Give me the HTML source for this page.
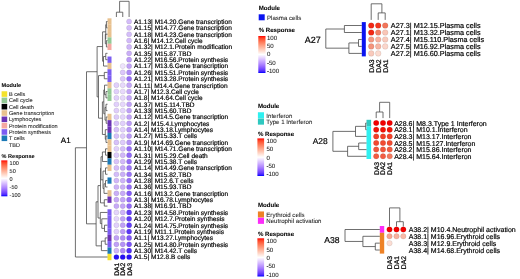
<!DOCTYPE html>
<html><head><meta charset="utf-8"><title>Module response heatmaps</title>
<style>html,body{margin:0;padding:0;background:#fff;}svg{display:block;}text{font-family:"Liberation Sans", Arial, Helvetica, sans-serif;text-rendering:geometricPrecision;}</style></head>
<body><svg width="520" height="279" viewBox="0 0 520 279">
<rect width="520" height="279" fill="#fff"/>
<rect x="107.50" y="18.32" width="4.00" height="6.42" fill="#e8c18f"/>
<rect x="107.50" y="24.68" width="4.00" height="6.42" fill="#e8c18f"/>
<rect x="107.50" y="31.05" width="4.00" height="6.42" fill="#e8c18f"/>
<rect x="107.50" y="37.41" width="4.00" height="6.42" fill="#93c995"/>
<rect x="107.50" y="43.78" width="4.00" height="6.42" fill="#f5a8a0"/>
<rect x="107.50" y="50.14" width="4.00" height="6.42" fill="#ffffff"/>
<rect x="107.50" y="56.51" width="4.00" height="6.42" fill="#7b5cf2"/>
<rect x="107.50" y="62.87" width="4.00" height="6.42" fill="#e8c18f"/>
<rect x="107.50" y="69.24" width="4.00" height="6.42" fill="#7b5cf2"/>
<rect x="107.50" y="75.60" width="4.00" height="6.42" fill="#7b5cf2"/>
<rect x="107.50" y="81.97" width="4.00" height="6.42" fill="#e8c18f"/>
<rect x="107.50" y="88.33" width="4.00" height="6.42" fill="#93c995"/>
<rect x="107.50" y="94.70" width="4.00" height="6.42" fill="#93c995"/>
<rect x="107.50" y="101.06" width="4.00" height="6.42" fill="#ffffff"/>
<rect x="107.50" y="107.43" width="4.00" height="6.42" fill="#ffffff"/>
<rect x="107.50" y="113.79" width="4.00" height="6.42" fill="#e8c18f"/>
<rect x="107.50" y="120.16" width="4.00" height="6.42" fill="#6a32b4"/>
<rect x="107.50" y="126.52" width="4.00" height="6.42" fill="#6a32b4"/>
<rect x="107.50" y="132.89" width="4.00" height="6.42" fill="#1b79b6"/>
<rect x="107.50" y="139.25" width="4.00" height="6.42" fill="#e8c18f"/>
<rect x="107.50" y="145.62" width="4.00" height="6.42" fill="#e8c18f"/>
<rect x="107.50" y="151.98" width="4.00" height="6.42" fill="#000000"/>
<rect x="107.50" y="158.35" width="4.00" height="6.42" fill="#1b79b6"/>
<rect x="107.50" y="164.71" width="4.00" height="6.42" fill="#e8c18f"/>
<rect x="107.50" y="171.08" width="4.00" height="6.42" fill="#ffffff"/>
<rect x="107.50" y="177.44" width="4.00" height="6.42" fill="#1b79b6"/>
<rect x="107.50" y="183.81" width="4.00" height="6.42" fill="#ffffff"/>
<rect x="107.50" y="190.17" width="4.00" height="6.42" fill="#e8c18f"/>
<rect x="107.50" y="196.54" width="4.00" height="6.42" fill="#6a32b4"/>
<rect x="107.50" y="202.90" width="4.00" height="6.42" fill="#ffffff"/>
<rect x="107.50" y="209.27" width="4.00" height="6.42" fill="#7b5cf2"/>
<rect x="107.50" y="215.63" width="4.00" height="6.42" fill="#7b5cf2"/>
<rect x="107.50" y="222.00" width="4.00" height="6.42" fill="#7b5cf2"/>
<rect x="107.50" y="228.36" width="4.00" height="6.42" fill="#7b5cf2"/>
<rect x="107.50" y="234.73" width="4.00" height="6.42" fill="#6a32b4"/>
<rect x="107.50" y="241.09" width="4.00" height="6.42" fill="#7b5cf2"/>
<rect x="107.50" y="247.46" width="4.00" height="6.42" fill="#1b79b6"/>
<rect x="107.50" y="253.82" width="4.00" height="6.42" fill="#f4e22c"/>
<circle cx="129.10" cy="21.50" r="2.60" fill="#d4bdf9" stroke="#000" stroke-opacity="0.15" stroke-width="0.5"/>
<circle cx="129.10" cy="27.87" r="2.60" fill="#d4bdf9" stroke="#000" stroke-opacity="0.15" stroke-width="0.5"/>
<circle cx="129.10" cy="34.23" r="2.60" fill="#d4bdf9" stroke="#000" stroke-opacity="0.15" stroke-width="0.5"/>
<circle cx="129.10" cy="40.59" r="2.60" fill="#d3baf9" stroke="#000" stroke-opacity="0.15" stroke-width="0.5"/>
<circle cx="129.10" cy="46.96" r="2.60" fill="#cfb6f8" stroke="#000" stroke-opacity="0.15" stroke-width="0.5"/>
<circle cx="129.10" cy="53.33" r="2.60" fill="#caaff7" stroke="#000" stroke-opacity="0.15" stroke-width="0.5"/>
<circle cx="129.10" cy="59.69" r="2.60" fill="#bc9cf6" stroke="#000" stroke-opacity="0.15" stroke-width="0.5"/>
<circle cx="122.75" cy="66.06" r="2.60" fill="#eee3fc" stroke="#000" stroke-opacity="0.15" stroke-width="0.5"/>
<circle cx="129.10" cy="66.06" r="2.60" fill="#c0a1f6" stroke="#000" stroke-opacity="0.15" stroke-width="0.5"/>
<circle cx="122.75" cy="72.42" r="2.60" fill="#dbc6fa" stroke="#000" stroke-opacity="0.15" stroke-width="0.5"/>
<circle cx="129.10" cy="72.42" r="2.60" fill="#ae8af6" stroke="#000" stroke-opacity="0.15" stroke-width="0.5"/>
<circle cx="122.75" cy="78.78" r="2.60" fill="#dbc6fa" stroke="#000" stroke-opacity="0.15" stroke-width="0.5"/>
<circle cx="129.10" cy="78.78" r="2.60" fill="#966ef6" stroke="#000" stroke-opacity="0.15" stroke-width="0.5"/>
<circle cx="116.40" cy="85.15" r="2.60" fill="#e1d0fb" stroke="#000" stroke-opacity="0.15" stroke-width="0.5"/>
<circle cx="122.75" cy="85.15" r="2.60" fill="#e7d9fb" stroke="#000" stroke-opacity="0.15" stroke-width="0.5"/>
<circle cx="129.10" cy="85.15" r="2.60" fill="#c4a6f7" stroke="#000" stroke-opacity="0.15" stroke-width="0.5"/>
<circle cx="116.40" cy="91.52" r="2.60" fill="#e1d0fb" stroke="#000" stroke-opacity="0.15" stroke-width="0.5"/>
<circle cx="122.75" cy="91.52" r="2.60" fill="#e7d9fb" stroke="#000" stroke-opacity="0.15" stroke-width="0.5"/>
<circle cx="129.10" cy="91.52" r="2.60" fill="#c4a6f7" stroke="#000" stroke-opacity="0.15" stroke-width="0.5"/>
<circle cx="116.40" cy="97.88" r="2.60" fill="#e1d0fb" stroke="#000" stroke-opacity="0.15" stroke-width="0.5"/>
<circle cx="122.75" cy="97.88" r="2.60" fill="#e6d7fb" stroke="#000" stroke-opacity="0.15" stroke-width="0.5"/>
<circle cx="129.10" cy="97.88" r="2.60" fill="#c4a6f7" stroke="#000" stroke-opacity="0.15" stroke-width="0.5"/>
<circle cx="116.40" cy="104.25" r="2.60" fill="#e1d0fb" stroke="#000" stroke-opacity="0.15" stroke-width="0.5"/>
<circle cx="122.75" cy="104.25" r="2.60" fill="#e6d7fb" stroke="#000" stroke-opacity="0.15" stroke-width="0.5"/>
<circle cx="129.10" cy="104.25" r="2.60" fill="#c0a1f6" stroke="#000" stroke-opacity="0.15" stroke-width="0.5"/>
<circle cx="116.40" cy="110.61" r="2.60" fill="#e0cefa" stroke="#000" stroke-opacity="0.15" stroke-width="0.5"/>
<circle cx="122.75" cy="110.61" r="2.60" fill="#e4d5fb" stroke="#000" stroke-opacity="0.15" stroke-width="0.5"/>
<circle cx="129.10" cy="110.61" r="2.60" fill="#c0a1f6" stroke="#000" stroke-opacity="0.15" stroke-width="0.5"/>
<circle cx="116.40" cy="116.98" r="2.60" fill="#ddcbfa" stroke="#000" stroke-opacity="0.15" stroke-width="0.5"/>
<circle cx="122.75" cy="116.98" r="2.60" fill="#e4d5fb" stroke="#000" stroke-opacity="0.15" stroke-width="0.5"/>
<circle cx="129.10" cy="116.98" r="2.60" fill="#c0a1f6" stroke="#000" stroke-opacity="0.15" stroke-width="0.5"/>
<circle cx="116.40" cy="123.34" r="2.60" fill="#d7c1f9" stroke="#000" stroke-opacity="0.15" stroke-width="0.5"/>
<circle cx="122.75" cy="123.34" r="2.60" fill="#e1d0fb" stroke="#000" stroke-opacity="0.15" stroke-width="0.5"/>
<circle cx="129.10" cy="123.34" r="2.60" fill="#bc9cf6" stroke="#000" stroke-opacity="0.15" stroke-width="0.5"/>
<circle cx="116.40" cy="129.70" r="2.60" fill="#d7c1f9" stroke="#000" stroke-opacity="0.15" stroke-width="0.5"/>
<circle cx="122.75" cy="129.70" r="2.60" fill="#e1d0fb" stroke="#000" stroke-opacity="0.15" stroke-width="0.5"/>
<circle cx="129.10" cy="129.70" r="2.60" fill="#b898f6" stroke="#000" stroke-opacity="0.15" stroke-width="0.5"/>
<circle cx="116.40" cy="136.07" r="2.60" fill="#d7c1f9" stroke="#000" stroke-opacity="0.15" stroke-width="0.5"/>
<circle cx="122.75" cy="136.07" r="2.60" fill="#ddcbfa" stroke="#000" stroke-opacity="0.15" stroke-width="0.5"/>
<circle cx="129.10" cy="136.07" r="2.60" fill="#b898f6" stroke="#000" stroke-opacity="0.15" stroke-width="0.5"/>
<circle cx="116.40" cy="142.44" r="2.60" fill="#d7c1f9" stroke="#000" stroke-opacity="0.15" stroke-width="0.5"/>
<circle cx="122.75" cy="142.44" r="2.60" fill="#ddcbfa" stroke="#000" stroke-opacity="0.15" stroke-width="0.5"/>
<circle cx="129.10" cy="142.44" r="2.60" fill="#b593f6" stroke="#000" stroke-opacity="0.15" stroke-width="0.5"/>
<circle cx="116.40" cy="148.80" r="2.60" fill="#e1d0fb" stroke="#000" stroke-opacity="0.15" stroke-width="0.5"/>
<circle cx="122.75" cy="148.80" r="2.60" fill="#d4bdf9" stroke="#000" stroke-opacity="0.15" stroke-width="0.5"/>
<circle cx="129.10" cy="148.80" r="2.60" fill="#966ef6" stroke="#000" stroke-opacity="0.15" stroke-width="0.5"/>
<circle cx="116.40" cy="155.16" r="2.60" fill="#ddcbfa" stroke="#000" stroke-opacity="0.15" stroke-width="0.5"/>
<circle cx="122.75" cy="155.16" r="2.60" fill="#d1b8f8" stroke="#000" stroke-opacity="0.15" stroke-width="0.5"/>
<circle cx="129.10" cy="155.16" r="2.60" fill="#9169f6" stroke="#000" stroke-opacity="0.15" stroke-width="0.5"/>
<circle cx="116.40" cy="161.53" r="2.60" fill="#d9c4f9" stroke="#000" stroke-opacity="0.15" stroke-width="0.5"/>
<circle cx="122.75" cy="161.53" r="2.60" fill="#d1b8f8" stroke="#000" stroke-opacity="0.15" stroke-width="0.5"/>
<circle cx="129.10" cy="161.53" r="2.60" fill="#946cf6" stroke="#000" stroke-opacity="0.15" stroke-width="0.5"/>
<circle cx="116.40" cy="167.90" r="2.60" fill="#d4bdf9" stroke="#000" stroke-opacity="0.15" stroke-width="0.5"/>
<circle cx="122.75" cy="167.90" r="2.60" fill="#c7aaf7" stroke="#000" stroke-opacity="0.15" stroke-width="0.5"/>
<circle cx="129.10" cy="167.90" r="2.60" fill="#9a73f6" stroke="#000" stroke-opacity="0.15" stroke-width="0.5"/>
<circle cx="116.40" cy="174.26" r="2.60" fill="#d4bdf9" stroke="#000" stroke-opacity="0.15" stroke-width="0.5"/>
<circle cx="122.75" cy="174.26" r="2.60" fill="#caaff7" stroke="#000" stroke-opacity="0.15" stroke-width="0.5"/>
<circle cx="129.10" cy="174.26" r="2.60" fill="#9a73f6" stroke="#000" stroke-opacity="0.15" stroke-width="0.5"/>
<circle cx="116.40" cy="180.62" r="2.60" fill="#d1b8f8" stroke="#000" stroke-opacity="0.15" stroke-width="0.5"/>
<circle cx="122.75" cy="180.62" r="2.60" fill="#cdb3f8" stroke="#000" stroke-opacity="0.15" stroke-width="0.5"/>
<circle cx="129.10" cy="180.62" r="2.60" fill="#966ef6" stroke="#000" stroke-opacity="0.15" stroke-width="0.5"/>
<circle cx="116.40" cy="186.99" r="2.60" fill="#cdb3f8" stroke="#000" stroke-opacity="0.15" stroke-width="0.5"/>
<circle cx="122.75" cy="186.99" r="2.60" fill="#caaff7" stroke="#000" stroke-opacity="0.15" stroke-width="0.5"/>
<circle cx="129.10" cy="186.99" r="2.60" fill="#9169f6" stroke="#000" stroke-opacity="0.15" stroke-width="0.5"/>
<circle cx="116.40" cy="193.36" r="2.60" fill="#caaff7" stroke="#000" stroke-opacity="0.15" stroke-width="0.5"/>
<circle cx="122.75" cy="193.36" r="2.60" fill="#c7aaf7" stroke="#000" stroke-opacity="0.15" stroke-width="0.5"/>
<circle cx="129.10" cy="193.36" r="2.60" fill="#845bf6" stroke="#000" stroke-opacity="0.15" stroke-width="0.5"/>
<circle cx="116.40" cy="199.72" r="2.60" fill="#c7aaf7" stroke="#000" stroke-opacity="0.15" stroke-width="0.5"/>
<circle cx="122.75" cy="199.72" r="2.60" fill="#c4a6f7" stroke="#000" stroke-opacity="0.15" stroke-width="0.5"/>
<circle cx="129.10" cy="199.72" r="2.60" fill="#966ef6" stroke="#000" stroke-opacity="0.15" stroke-width="0.5"/>
<circle cx="116.40" cy="206.09" r="2.60" fill="#c7aaf7" stroke="#000" stroke-opacity="0.15" stroke-width="0.5"/>
<circle cx="122.75" cy="206.09" r="2.60" fill="#c4a6f7" stroke="#000" stroke-opacity="0.15" stroke-width="0.5"/>
<circle cx="129.10" cy="206.09" r="2.60" fill="#9169f6" stroke="#000" stroke-opacity="0.15" stroke-width="0.5"/>
<circle cx="116.40" cy="212.45" r="2.60" fill="#e4d5fb" stroke="#000" stroke-opacity="0.15" stroke-width="0.5"/>
<circle cx="122.75" cy="212.45" r="2.60" fill="#cdb3f8" stroke="#000" stroke-opacity="0.15" stroke-width="0.5"/>
<circle cx="129.10" cy="212.45" r="2.60" fill="#653ef6" stroke="#000" stroke-opacity="0.15" stroke-width="0.5"/>
<circle cx="116.40" cy="218.81" r="2.60" fill="#e4d5fb" stroke="#000" stroke-opacity="0.15" stroke-width="0.5"/>
<circle cx="122.75" cy="218.81" r="2.60" fill="#c0a1f6" stroke="#000" stroke-opacity="0.15" stroke-width="0.5"/>
<circle cx="129.10" cy="218.81" r="2.60" fill="#623cf6" stroke="#000" stroke-opacity="0.15" stroke-width="0.5"/>
<circle cx="116.40" cy="225.18" r="2.60" fill="#e1d0fb" stroke="#000" stroke-opacity="0.15" stroke-width="0.5"/>
<circle cx="122.75" cy="225.18" r="2.60" fill="#c0a1f6" stroke="#000" stroke-opacity="0.15" stroke-width="0.5"/>
<circle cx="129.10" cy="225.18" r="2.60" fill="#623cf6" stroke="#000" stroke-opacity="0.15" stroke-width="0.5"/>
<circle cx="116.40" cy="231.55" r="2.60" fill="#e1d0fb" stroke="#000" stroke-opacity="0.15" stroke-width="0.5"/>
<circle cx="122.75" cy="231.55" r="2.60" fill="#bc9cf6" stroke="#000" stroke-opacity="0.15" stroke-width="0.5"/>
<circle cx="129.10" cy="231.55" r="2.60" fill="#5c37f6" stroke="#000" stroke-opacity="0.15" stroke-width="0.5"/>
<circle cx="116.40" cy="237.91" r="2.60" fill="#c0a1f6" stroke="#000" stroke-opacity="0.15" stroke-width="0.5"/>
<circle cx="122.75" cy="237.91" r="2.60" fill="#b18ff6" stroke="#000" stroke-opacity="0.15" stroke-width="0.5"/>
<circle cx="129.10" cy="237.91" r="2.60" fill="#8057f6" stroke="#000" stroke-opacity="0.15" stroke-width="0.5"/>
<circle cx="116.40" cy="244.28" r="2.60" fill="#c0a1f6" stroke="#000" stroke-opacity="0.15" stroke-width="0.5"/>
<circle cx="122.75" cy="244.28" r="2.60" fill="#b593f6" stroke="#000" stroke-opacity="0.15" stroke-width="0.5"/>
<circle cx="129.10" cy="244.28" r="2.60" fill="#7b52f6" stroke="#000" stroke-opacity="0.15" stroke-width="0.5"/>
<circle cx="116.40" cy="250.64" r="2.60" fill="#d1b8f8" stroke="#000" stroke-opacity="0.15" stroke-width="0.5"/>
<circle cx="122.75" cy="250.64" r="2.60" fill="#ae8af6" stroke="#000" stroke-opacity="0.15" stroke-width="0.5"/>
<circle cx="129.10" cy="250.64" r="2.60" fill="#512ff6" stroke="#000" stroke-opacity="0.15" stroke-width="0.5"/>
<circle cx="116.40" cy="257.00" r="2.60" fill="#2711f6" stroke="#000" stroke-opacity="0.15" stroke-width="0.5"/>
<circle cx="122.75" cy="257.00" r="2.60" fill="#2711f6" stroke="#000" stroke-opacity="0.15" stroke-width="0.5"/>
<circle cx="129.10" cy="257.00" r="2.60" fill="#2711f6" stroke="#000" stroke-opacity="0.15" stroke-width="0.5"/>
<text x="134.00" y="23.85" font-size="6.55" fill="#000" stroke="#000" stroke-width="0.18">A1.13| M14.20.Gene transcription</text>
<text x="134.00" y="30.22" font-size="6.55" fill="#000" stroke="#000" stroke-width="0.18">A1.15| M14.77.Gene transcription</text>
<text x="134.00" y="36.58" font-size="6.55" fill="#000" stroke="#000" stroke-width="0.18">A1.18| M14.23.Gene transcription</text>
<text x="134.00" y="42.95" font-size="6.55" fill="#000" stroke="#000" stroke-width="0.18">A1.6| M14.12.Cell cycle</text>
<text x="134.00" y="49.31" font-size="6.55" fill="#000" stroke="#000" stroke-width="0.18">A1.32| M12.1.Protein modification</text>
<text x="134.00" y="55.68" font-size="6.55" fill="#000" stroke="#000" stroke-width="0.18">A1.35| M15.87.TBD</text>
<text x="134.00" y="62.04" font-size="6.55" fill="#000" stroke="#000" stroke-width="0.18">A1.22| M16.56.Protein synthesis</text>
<text x="134.00" y="68.41" font-size="6.55" fill="#000" stroke="#000" stroke-width="0.18">A1.17| M13.6.Gene transcription</text>
<text x="134.00" y="74.77" font-size="6.55" fill="#000" stroke="#000" stroke-width="0.18">A1.26| M15.51.Protein synthesis</text>
<text x="134.00" y="81.13" font-size="6.55" fill="#000" stroke="#000" stroke-width="0.18">A1.21| M13.28.Protein synthesis</text>
<text x="134.00" y="87.50" font-size="6.55" fill="#000" stroke="#000" stroke-width="0.18">A1.11| M14.4.Gene transcription</text>
<text x="134.00" y="93.86" font-size="6.55" fill="#000" stroke="#000" stroke-width="0.18">A1.7| M12.3.Cell cycle</text>
<text x="134.00" y="100.23" font-size="6.55" fill="#000" stroke="#000" stroke-width="0.18">A1.8| M14.64.Cell cycle</text>
<text x="134.00" y="106.59" font-size="6.55" fill="#000" stroke="#000" stroke-width="0.18">A1.37| M15.114.TBD</text>
<text x="134.00" y="112.96" font-size="6.55" fill="#000" stroke="#000" stroke-width="0.18">A1.33| M15.60.TBD</text>
<text x="134.00" y="119.33" font-size="6.55" fill="#000" stroke="#000" stroke-width="0.18">A1.12| M14.5.Gene transcription</text>
<text x="134.00" y="125.69" font-size="6.55" fill="#000" stroke="#000" stroke-width="0.18">A1.2| M15.4.Lymphocytes</text>
<text x="134.00" y="132.05" font-size="6.55" fill="#000" stroke="#000" stroke-width="0.18">A1.4| M13.18.Lymphocytes</text>
<text x="134.00" y="138.42" font-size="6.55" fill="#000" stroke="#000" stroke-width="0.18">A1.27| M15.33.T cells</text>
<text x="134.00" y="144.78" font-size="6.55" fill="#000" stroke="#000" stroke-width="0.18">A1.9| M14.69.Gene transcription</text>
<text x="134.00" y="151.15" font-size="6.55" fill="#000" stroke="#000" stroke-width="0.18">A1.10| M14.71.Gene transcription</text>
<text x="134.00" y="157.51" font-size="6.55" fill="#000" stroke="#000" stroke-width="0.18">A1.31| M15.29.Cell death</text>
<text x="134.00" y="163.88" font-size="6.55" fill="#000" stroke="#000" stroke-width="0.18">A1.29| M15.38.T cells</text>
<text x="134.00" y="170.25" font-size="6.55" fill="#000" stroke="#000" stroke-width="0.18">A1.14| M14.49.Gene transcription</text>
<text x="134.00" y="176.61" font-size="6.55" fill="#000" stroke="#000" stroke-width="0.18">A1.34| M15.82.TBD</text>
<text x="134.00" y="182.97" font-size="6.55" fill="#000" stroke="#000" stroke-width="0.18">A1.28| M12.6.T cells</text>
<text x="134.00" y="189.34" font-size="6.55" fill="#000" stroke="#000" stroke-width="0.18">A1.36| M15.93.TBD</text>
<text x="134.00" y="195.71" font-size="6.55" fill="#000" stroke="#000" stroke-width="0.18">A1.16| M13.2.Gene transcription</text>
<text x="134.00" y="202.07" font-size="6.55" fill="#000" stroke="#000" stroke-width="0.18">A1.3| M16.78.Lymphocytes</text>
<text x="134.00" y="208.44" font-size="6.55" fill="#000" stroke="#000" stroke-width="0.18">A1.38| M16.91.TBD</text>
<text x="134.00" y="214.80" font-size="6.55" fill="#000" stroke="#000" stroke-width="0.18">A1.23| M14.58.Protein synthesis</text>
<text x="134.00" y="221.16" font-size="6.55" fill="#000" stroke="#000" stroke-width="0.18">A1.20| M12.7.Protein synthesis</text>
<text x="134.00" y="227.53" font-size="6.55" fill="#000" stroke="#000" stroke-width="0.18">A1.24| M14.75.Protein synthesis</text>
<text x="134.00" y="233.90" font-size="6.55" fill="#000" stroke="#000" stroke-width="0.18">A1.19| M11.1.Protein synthesis</text>
<text x="134.00" y="240.26" font-size="6.55" fill="#000" stroke="#000" stroke-width="0.18">A1.1| M13.27.Lymphocytes</text>
<text x="134.00" y="246.62" font-size="6.55" fill="#000" stroke="#000" stroke-width="0.18">A1.25| M14.80.Protein synthesis</text>
<text x="134.00" y="252.99" font-size="6.55" fill="#000" stroke="#000" stroke-width="0.18">A1.30| M14.42.T cells</text>
<text x="134.00" y="259.36" font-size="6.55" fill="#000" stroke="#000" stroke-width="0.18">A1.5| M12.8.B cells</text>
<text transform="translate(118.80,262.90) rotate(-90)" font-size="6.6" text-anchor="end" fill="#000" stroke="#000" stroke-width="0.22">DA1</text>
<text transform="translate(125.15,262.90) rotate(-90)" font-size="6.6" text-anchor="end" fill="#000" stroke="#000" stroke-width="0.22">DA2</text>
<text transform="translate(131.50,262.90) rotate(-90)" font-size="6.6" text-anchor="end" fill="#000" stroke="#000" stroke-width="0.22">DA3</text>
<text x="60.80" y="142.50" font-size="8.0" fill="#000" stroke="#000" stroke-width="0.18">A1</text>
<line x1="119.60" y1="1.30" x2="129.10" y2="1.30" stroke="#4a4a4a" stroke-width="0.8"/>
<line x1="129.10" y1="1.30" x2="129.10" y2="17.00" stroke="#4a4a4a" stroke-width="0.8"/>
<line x1="119.60" y1="1.30" x2="119.60" y2="12.20" stroke="#4a4a4a" stroke-width="0.8"/>
<line x1="116.40" y1="12.20" x2="122.75" y2="12.20" stroke="#4a4a4a" stroke-width="0.8"/>
<line x1="116.40" y1="12.20" x2="116.40" y2="17.00" stroke="#4a4a4a" stroke-width="0.8"/>
<line x1="122.75" y1="12.20" x2="122.75" y2="17.00" stroke="#4a4a4a" stroke-width="0.8"/>
<line x1="106.40" y1="21.50" x2="106.40" y2="27.87" stroke="#4a4a4a" stroke-width="0.8"/>
<line x1="106.40" y1="21.50" x2="107.50" y2="21.50" stroke="#4a4a4a" stroke-width="0.8"/>
<line x1="106.40" y1="27.87" x2="107.50" y2="27.87" stroke="#4a4a4a" stroke-width="0.8"/>
<line x1="106.40" y1="40.59" x2="106.40" y2="46.96" stroke="#4a4a4a" stroke-width="0.8"/>
<line x1="106.40" y1="40.59" x2="107.50" y2="40.59" stroke="#4a4a4a" stroke-width="0.8"/>
<line x1="106.40" y1="46.96" x2="107.50" y2="46.96" stroke="#4a4a4a" stroke-width="0.8"/>
<line x1="105.30" y1="34.23" x2="105.30" y2="43.78" stroke="#4a4a4a" stroke-width="0.8"/>
<line x1="105.30" y1="34.23" x2="107.50" y2="34.23" stroke="#4a4a4a" stroke-width="0.8"/>
<line x1="105.30" y1="43.78" x2="106.40" y2="43.78" stroke="#4a4a4a" stroke-width="0.8"/>
<line x1="105.75" y1="24.68" x2="105.75" y2="39.00" stroke="#4a4a4a" stroke-width="0.8"/>
<line x1="105.75" y1="24.68" x2="106.40" y2="24.68" stroke="#4a4a4a" stroke-width="0.8"/>
<line x1="105.75" y1="39.00" x2="105.30" y2="39.00" stroke="#4a4a4a" stroke-width="0.8"/>
<line x1="105.75" y1="53.33" x2="105.75" y2="59.69" stroke="#4a4a4a" stroke-width="0.8"/>
<line x1="105.75" y1="53.33" x2="107.50" y2="53.33" stroke="#4a4a4a" stroke-width="0.8"/>
<line x1="105.75" y1="59.69" x2="107.50" y2="59.69" stroke="#4a4a4a" stroke-width="0.8"/>
<line x1="103.50" y1="56.51" x2="103.50" y2="66.06" stroke="#4a4a4a" stroke-width="0.8"/>
<line x1="103.50" y1="56.51" x2="105.75" y2="56.51" stroke="#4a4a4a" stroke-width="0.8"/>
<line x1="103.50" y1="66.06" x2="107.50" y2="66.06" stroke="#4a4a4a" stroke-width="0.8"/>
<line x1="102.60" y1="31.84" x2="102.60" y2="61.28" stroke="#4a4a4a" stroke-width="0.8"/>
<line x1="102.60" y1="31.84" x2="105.75" y2="31.84" stroke="#4a4a4a" stroke-width="0.8"/>
<line x1="102.60" y1="61.28" x2="103.50" y2="61.28" stroke="#4a4a4a" stroke-width="0.8"/>
<line x1="104.30" y1="72.42" x2="104.30" y2="78.78" stroke="#4a4a4a" stroke-width="0.8"/>
<line x1="104.30" y1="72.42" x2="107.50" y2="72.42" stroke="#4a4a4a" stroke-width="0.8"/>
<line x1="104.30" y1="78.78" x2="107.50" y2="78.78" stroke="#4a4a4a" stroke-width="0.8"/>
<line x1="106.00" y1="91.52" x2="106.00" y2="97.88" stroke="#4a4a4a" stroke-width="0.8"/>
<line x1="106.00" y1="91.52" x2="107.50" y2="91.52" stroke="#4a4a4a" stroke-width="0.8"/>
<line x1="106.00" y1="97.88" x2="107.50" y2="97.88" stroke="#4a4a4a" stroke-width="0.8"/>
<line x1="104.50" y1="85.15" x2="104.50" y2="94.70" stroke="#4a4a4a" stroke-width="0.8"/>
<line x1="104.50" y1="85.15" x2="107.50" y2="85.15" stroke="#4a4a4a" stroke-width="0.8"/>
<line x1="104.50" y1="94.70" x2="106.00" y2="94.70" stroke="#4a4a4a" stroke-width="0.8"/>
<line x1="106.00" y1="104.25" x2="106.00" y2="110.61" stroke="#4a4a4a" stroke-width="0.8"/>
<line x1="106.00" y1="104.25" x2="107.50" y2="104.25" stroke="#4a4a4a" stroke-width="0.8"/>
<line x1="106.00" y1="110.61" x2="107.50" y2="110.61" stroke="#4a4a4a" stroke-width="0.8"/>
<line x1="106.20" y1="116.98" x2="106.20" y2="123.34" stroke="#4a4a4a" stroke-width="0.8"/>
<line x1="106.20" y1="116.98" x2="107.50" y2="116.98" stroke="#4a4a4a" stroke-width="0.8"/>
<line x1="106.20" y1="123.34" x2="107.50" y2="123.34" stroke="#4a4a4a" stroke-width="0.8"/>
<line x1="105.00" y1="107.43" x2="105.00" y2="120.16" stroke="#4a4a4a" stroke-width="0.8"/>
<line x1="105.00" y1="107.43" x2="106.00" y2="107.43" stroke="#4a4a4a" stroke-width="0.8"/>
<line x1="105.00" y1="120.16" x2="106.20" y2="120.16" stroke="#4a4a4a" stroke-width="0.8"/>
<line x1="103.80" y1="89.92" x2="103.80" y2="113.79" stroke="#4a4a4a" stroke-width="0.8"/>
<line x1="103.80" y1="89.92" x2="104.50" y2="89.92" stroke="#4a4a4a" stroke-width="0.8"/>
<line x1="103.80" y1="113.79" x2="105.00" y2="113.79" stroke="#4a4a4a" stroke-width="0.8"/>
<line x1="106.00" y1="136.07" x2="106.00" y2="142.44" stroke="#4a4a4a" stroke-width="0.8"/>
<line x1="106.00" y1="136.07" x2="107.50" y2="136.07" stroke="#4a4a4a" stroke-width="0.8"/>
<line x1="106.00" y1="142.44" x2="107.50" y2="142.44" stroke="#4a4a4a" stroke-width="0.8"/>
<line x1="105.30" y1="129.70" x2="105.30" y2="139.25" stroke="#4a4a4a" stroke-width="0.8"/>
<line x1="105.30" y1="129.70" x2="107.50" y2="129.70" stroke="#4a4a4a" stroke-width="0.8"/>
<line x1="105.30" y1="139.25" x2="106.00" y2="139.25" stroke="#4a4a4a" stroke-width="0.8"/>
<line x1="102.40" y1="101.86" x2="102.40" y2="134.48" stroke="#4a4a4a" stroke-width="0.8"/>
<line x1="102.40" y1="101.86" x2="103.80" y2="101.86" stroke="#4a4a4a" stroke-width="0.8"/>
<line x1="102.40" y1="134.48" x2="105.30" y2="134.48" stroke="#4a4a4a" stroke-width="0.8"/>
<line x1="98.50" y1="75.60" x2="98.50" y2="118.17" stroke="#4a4a4a" stroke-width="0.8"/>
<line x1="98.50" y1="75.60" x2="104.30" y2="75.60" stroke="#4a4a4a" stroke-width="0.8"/>
<line x1="98.50" y1="118.17" x2="102.40" y2="118.17" stroke="#4a4a4a" stroke-width="0.8"/>
<line x1="97.10" y1="46.56" x2="97.10" y2="96.89" stroke="#4a4a4a" stroke-width="0.8"/>
<line x1="97.10" y1="46.56" x2="102.60" y2="46.56" stroke="#4a4a4a" stroke-width="0.8"/>
<line x1="97.10" y1="96.89" x2="98.50" y2="96.89" stroke="#4a4a4a" stroke-width="0.8"/>
<line x1="105.50" y1="148.80" x2="105.50" y2="155.16" stroke="#4a4a4a" stroke-width="0.8"/>
<line x1="105.50" y1="148.80" x2="107.50" y2="148.80" stroke="#4a4a4a" stroke-width="0.8"/>
<line x1="105.50" y1="155.16" x2="107.50" y2="155.16" stroke="#4a4a4a" stroke-width="0.8"/>
<line x1="102.40" y1="151.98" x2="102.40" y2="161.53" stroke="#4a4a4a" stroke-width="0.8"/>
<line x1="102.40" y1="151.98" x2="105.50" y2="151.98" stroke="#4a4a4a" stroke-width="0.8"/>
<line x1="102.40" y1="161.53" x2="107.50" y2="161.53" stroke="#4a4a4a" stroke-width="0.8"/>
<line x1="105.50" y1="167.90" x2="105.50" y2="174.26" stroke="#4a4a4a" stroke-width="0.8"/>
<line x1="105.50" y1="167.90" x2="107.50" y2="167.90" stroke="#4a4a4a" stroke-width="0.8"/>
<line x1="105.50" y1="174.26" x2="107.50" y2="174.26" stroke="#4a4a4a" stroke-width="0.8"/>
<line x1="105.50" y1="180.62" x2="105.50" y2="186.99" stroke="#4a4a4a" stroke-width="0.8"/>
<line x1="105.50" y1="180.62" x2="107.50" y2="180.62" stroke="#4a4a4a" stroke-width="0.8"/>
<line x1="105.50" y1="186.99" x2="107.50" y2="186.99" stroke="#4a4a4a" stroke-width="0.8"/>
<line x1="104.00" y1="183.81" x2="104.00" y2="193.36" stroke="#4a4a4a" stroke-width="0.8"/>
<line x1="104.00" y1="183.81" x2="105.50" y2="183.81" stroke="#4a4a4a" stroke-width="0.8"/>
<line x1="104.00" y1="193.36" x2="107.50" y2="193.36" stroke="#4a4a4a" stroke-width="0.8"/>
<line x1="103.00" y1="171.08" x2="103.00" y2="188.58" stroke="#4a4a4a" stroke-width="0.8"/>
<line x1="103.00" y1="171.08" x2="105.50" y2="171.08" stroke="#4a4a4a" stroke-width="0.8"/>
<line x1="103.00" y1="188.58" x2="104.00" y2="188.58" stroke="#4a4a4a" stroke-width="0.8"/>
<line x1="101.00" y1="156.76" x2="101.00" y2="179.83" stroke="#4a4a4a" stroke-width="0.8"/>
<line x1="101.00" y1="156.76" x2="102.40" y2="156.76" stroke="#4a4a4a" stroke-width="0.8"/>
<line x1="101.00" y1="179.83" x2="103.00" y2="179.83" stroke="#4a4a4a" stroke-width="0.8"/>
<line x1="104.30" y1="199.72" x2="104.30" y2="206.09" stroke="#4a4a4a" stroke-width="0.8"/>
<line x1="104.30" y1="199.72" x2="107.50" y2="199.72" stroke="#4a4a4a" stroke-width="0.8"/>
<line x1="104.30" y1="206.09" x2="107.50" y2="206.09" stroke="#4a4a4a" stroke-width="0.8"/>
<line x1="100.50" y1="168.29" x2="100.50" y2="202.90" stroke="#4a4a4a" stroke-width="0.8"/>
<line x1="100.50" y1="168.29" x2="101.00" y2="168.29" stroke="#4a4a4a" stroke-width="0.8"/>
<line x1="100.50" y1="202.90" x2="104.30" y2="202.90" stroke="#4a4a4a" stroke-width="0.8"/>
<line x1="104.50" y1="225.18" x2="104.50" y2="231.55" stroke="#4a4a4a" stroke-width="0.8"/>
<line x1="104.50" y1="225.18" x2="107.50" y2="225.18" stroke="#4a4a4a" stroke-width="0.8"/>
<line x1="104.50" y1="231.55" x2="107.50" y2="231.55" stroke="#4a4a4a" stroke-width="0.8"/>
<line x1="101.80" y1="218.81" x2="101.80" y2="228.36" stroke="#4a4a4a" stroke-width="0.8"/>
<line x1="101.80" y1="218.81" x2="107.50" y2="218.81" stroke="#4a4a4a" stroke-width="0.8"/>
<line x1="101.80" y1="228.36" x2="104.50" y2="228.36" stroke="#4a4a4a" stroke-width="0.8"/>
<line x1="100.30" y1="212.45" x2="100.30" y2="223.59" stroke="#4a4a4a" stroke-width="0.8"/>
<line x1="100.30" y1="212.45" x2="107.50" y2="212.45" stroke="#4a4a4a" stroke-width="0.8"/>
<line x1="100.30" y1="223.59" x2="101.80" y2="223.59" stroke="#4a4a4a" stroke-width="0.8"/>
<line x1="98.00" y1="185.60" x2="98.00" y2="218.02" stroke="#4a4a4a" stroke-width="0.8"/>
<line x1="98.00" y1="185.60" x2="100.50" y2="185.60" stroke="#4a4a4a" stroke-width="0.8"/>
<line x1="98.00" y1="218.02" x2="100.30" y2="218.02" stroke="#4a4a4a" stroke-width="0.8"/>
<line x1="105.20" y1="237.91" x2="105.20" y2="244.28" stroke="#4a4a4a" stroke-width="0.8"/>
<line x1="105.20" y1="237.91" x2="107.50" y2="237.91" stroke="#4a4a4a" stroke-width="0.8"/>
<line x1="105.20" y1="244.28" x2="107.50" y2="244.28" stroke="#4a4a4a" stroke-width="0.8"/>
<line x1="101.40" y1="241.09" x2="101.40" y2="250.64" stroke="#4a4a4a" stroke-width="0.8"/>
<line x1="101.40" y1="241.09" x2="105.20" y2="241.09" stroke="#4a4a4a" stroke-width="0.8"/>
<line x1="101.40" y1="250.64" x2="107.50" y2="250.64" stroke="#4a4a4a" stroke-width="0.8"/>
<line x1="96.10" y1="201.81" x2="96.10" y2="245.87" stroke="#4a4a4a" stroke-width="0.8"/>
<line x1="96.10" y1="201.81" x2="98.00" y2="201.81" stroke="#4a4a4a" stroke-width="0.8"/>
<line x1="96.10" y1="245.87" x2="101.40" y2="245.87" stroke="#4a4a4a" stroke-width="0.8"/>
<line x1="86.50" y1="71.72" x2="86.50" y2="223.84" stroke="#4a4a4a" stroke-width="0.8"/>
<line x1="86.50" y1="71.72" x2="97.10" y2="71.72" stroke="#4a4a4a" stroke-width="0.8"/>
<line x1="86.50" y1="223.84" x2="96.10" y2="223.84" stroke="#4a4a4a" stroke-width="0.8"/>
<line x1="75.40" y1="147.78" x2="75.40" y2="257.00" stroke="#4a4a4a" stroke-width="0.8"/>
<line x1="75.40" y1="147.78" x2="86.50" y2="147.78" stroke="#4a4a4a" stroke-width="0.8"/>
<line x1="75.40" y1="257.00" x2="107.50" y2="257.00" stroke="#4a4a4a" stroke-width="0.8"/>
<text x="1.60" y="87.10" font-size="5.55" font-weight="bold" fill="#000" stroke="#000" stroke-width="0.06">Module</text>
<rect x="1.60" y="91.25" width="5.60" height="5.60" fill="#f4e22c"/>
<text x="8.90" y="96.05" font-size="5.55" fill="#1a1a1a" stroke="#1a1a1a" stroke-width="0.06">B cells</text>
<rect x="1.60" y="97.57" width="5.60" height="5.60" fill="#93c995"/>
<text x="8.90" y="102.37" font-size="5.55" fill="#1a1a1a" stroke="#1a1a1a" stroke-width="0.06">Cell cycle</text>
<rect x="1.60" y="103.89" width="5.60" height="5.60" fill="#000000"/>
<text x="8.90" y="108.69" font-size="5.55" fill="#1a1a1a" stroke="#1a1a1a" stroke-width="0.06">Cell death</text>
<rect x="1.60" y="110.21" width="5.60" height="5.60" fill="#e8c18f"/>
<text x="8.90" y="115.01" font-size="5.55" fill="#1a1a1a" stroke="#1a1a1a" stroke-width="0.06">Gene transcription</text>
<rect x="1.60" y="116.53" width="5.60" height="5.60" fill="#6a32b4"/>
<text x="8.90" y="121.33" font-size="5.55" fill="#1a1a1a" stroke="#1a1a1a" stroke-width="0.06">Lymphocytes</text>
<rect x="1.60" y="122.85" width="5.60" height="5.60" fill="#f5a8a0"/>
<text x="8.90" y="127.65" font-size="5.55" fill="#1a1a1a" stroke="#1a1a1a" stroke-width="0.06">Protein modification</text>
<rect x="1.60" y="129.17" width="5.60" height="5.60" fill="#7b5cf2"/>
<text x="8.90" y="133.97" font-size="5.55" fill="#1a1a1a" stroke="#1a1a1a" stroke-width="0.06">Protein synthesis</text>
<rect x="1.60" y="135.49" width="5.60" height="5.60" fill="#1b79b6"/>
<text x="8.90" y="140.29" font-size="5.55" fill="#1a1a1a" stroke="#1a1a1a" stroke-width="0.06">T cells</text>
<text x="8.90" y="146.61" font-size="5.55" fill="#1a1a1a" stroke="#1a1a1a" stroke-width="0.06">TBD</text>
<text x="1.60" y="158.00" font-size="5.55" font-weight="bold" fill="#000" stroke="#000" stroke-width="0.06">% Response</text>
<defs><linearGradient id="g160" x1="0" y1="0" x2="0" y2="1"><stop offset="0.000" stop-color="#ff0000"/><stop offset="0.050" stop-color="#ff3e22"/><stop offset="0.100" stop-color="#ff5b3a"/><stop offset="0.150" stop-color="#ff7352"/><stop offset="0.200" stop-color="#ff8969"/><stop offset="0.250" stop-color="#ff9e81"/><stop offset="0.300" stop-color="#ffb299"/><stop offset="0.350" stop-color="#ffc6b2"/><stop offset="0.400" stop-color="#ffd9cb"/><stop offset="0.450" stop-color="#ffece5"/><stop offset="0.500" stop-color="#ffffff"/><stop offset="0.550" stop-color="#f2e7ff"/><stop offset="0.600" stop-color="#e3d0ff"/><stop offset="0.650" stop-color="#d4b9ff"/><stop offset="0.700" stop-color="#c4a2ff"/><stop offset="0.750" stop-color="#b38bff"/><stop offset="0.800" stop-color="#a074ff"/><stop offset="0.850" stop-color="#8a5dff"/><stop offset="0.900" stop-color="#7145ff"/><stop offset="0.950" stop-color="#502bff"/><stop offset="1.000" stop-color="#0000ff"/></linearGradient></defs>
<rect x="1.25" y="160.40" width="6.15" height="35.90" fill="url(#g160)"/>
<text x="9.60" y="164.60" font-size="5.55" fill="#1a1a1a" stroke="#1a1a1a" stroke-width="0.06">100</text>
<text x="9.60" y="172.60" font-size="5.55" fill="#1a1a1a" stroke="#1a1a1a" stroke-width="0.06">50</text>
<text x="9.60" y="180.60" font-size="5.55" fill="#1a1a1a" stroke="#1a1a1a" stroke-width="0.06">0</text>
<text x="9.60" y="188.60" font-size="5.55" fill="#1a1a1a" stroke="#1a1a1a" stroke-width="0.06">-50</text>
<text x="9.60" y="196.50" font-size="5.55" fill="#1a1a1a" stroke="#1a1a1a" stroke-width="0.06">-100</text>
<text x="258.70" y="9.90" font-size="6.1" font-weight="bold" fill="#000" stroke="#000" stroke-width="0.06">Module</text>
<rect x="258.70" y="14.30" width="6.00" height="6.00" fill="#0a14f0"/>
<text x="267.00" y="19.50" font-size="6.1" fill="#1a1a1a" stroke="#1a1a1a" stroke-width="0.06">Plasma cells</text>
<text x="258.70" y="32.40" font-size="6.1" font-weight="bold" fill="#000" stroke="#000" stroke-width="0.06">% Response</text>
<defs><linearGradient id="g36" x1="0" y1="0" x2="0" y2="1"><stop offset="0.000" stop-color="#ff0000"/><stop offset="0.050" stop-color="#ff3e22"/><stop offset="0.100" stop-color="#ff5b3a"/><stop offset="0.150" stop-color="#ff7352"/><stop offset="0.200" stop-color="#ff8969"/><stop offset="0.250" stop-color="#ff9e81"/><stop offset="0.300" stop-color="#ffb299"/><stop offset="0.350" stop-color="#ffc6b2"/><stop offset="0.400" stop-color="#ffd9cb"/><stop offset="0.450" stop-color="#ffece5"/><stop offset="0.500" stop-color="#ffffff"/><stop offset="0.550" stop-color="#f2e7ff"/><stop offset="0.600" stop-color="#e3d0ff"/><stop offset="0.650" stop-color="#d4b9ff"/><stop offset="0.700" stop-color="#c4a2ff"/><stop offset="0.750" stop-color="#b38bff"/><stop offset="0.800" stop-color="#a074ff"/><stop offset="0.850" stop-color="#8a5dff"/><stop offset="0.900" stop-color="#7145ff"/><stop offset="0.950" stop-color="#502bff"/><stop offset="1.000" stop-color="#0000ff"/></linearGradient></defs>
<rect x="258.30" y="36.00" width="7.20" height="37.00" fill="url(#g36)"/>
<text x="266.90" y="39.50" font-size="6.1" fill="#1a1a1a" stroke="#1a1a1a" stroke-width="0.06">100</text>
<text x="266.90" y="47.90" font-size="6.1" fill="#1a1a1a" stroke="#1a1a1a" stroke-width="0.06">50</text>
<text x="266.90" y="56.30" font-size="6.1" fill="#1a1a1a" stroke="#1a1a1a" stroke-width="0.06">0</text>
<text x="266.90" y="64.80" font-size="6.1" fill="#1a1a1a" stroke="#1a1a1a" stroke-width="0.06">-50</text>
<text x="266.90" y="73.20" font-size="6.1" fill="#1a1a1a" stroke="#1a1a1a" stroke-width="0.06">-100</text>
<text x="257.90" y="108.40" font-size="6.1" font-weight="bold" fill="#000" stroke="#000" stroke-width="0.06">Module</text>
<rect x="257.90" y="112.25" width="6.10" height="6.10" fill="#2ff0f0"/>
<text x="266.30" y="117.50" font-size="6.1" fill="#1a1a1a" stroke="#1a1a1a" stroke-width="0.06">Interferon</text>
<rect x="257.90" y="118.55" width="6.10" height="6.10" fill="#2fc8c0"/>
<text x="266.30" y="123.80" font-size="6.1" fill="#1a1a1a" stroke="#1a1a1a" stroke-width="0.06">Type 1 Interferon</text>
<text x="257.90" y="136.10" font-size="6.1" font-weight="bold" fill="#000" stroke="#000" stroke-width="0.06">% Response</text>
<defs><linearGradient id="g138" x1="0" y1="0" x2="0" y2="1"><stop offset="0.000" stop-color="#ff0000"/><stop offset="0.050" stop-color="#ff3e22"/><stop offset="0.100" stop-color="#ff5b3a"/><stop offset="0.150" stop-color="#ff7352"/><stop offset="0.200" stop-color="#ff8969"/><stop offset="0.250" stop-color="#ff9e81"/><stop offset="0.300" stop-color="#ffb299"/><stop offset="0.350" stop-color="#ffc6b2"/><stop offset="0.400" stop-color="#ffd9cb"/><stop offset="0.450" stop-color="#ffece5"/><stop offset="0.500" stop-color="#ffffff"/><stop offset="0.550" stop-color="#f2e7ff"/><stop offset="0.600" stop-color="#e3d0ff"/><stop offset="0.650" stop-color="#d4b9ff"/><stop offset="0.700" stop-color="#c4a2ff"/><stop offset="0.750" stop-color="#b38bff"/><stop offset="0.800" stop-color="#a074ff"/><stop offset="0.850" stop-color="#8a5dff"/><stop offset="0.900" stop-color="#7145ff"/><stop offset="0.950" stop-color="#502bff"/><stop offset="1.000" stop-color="#0000ff"/></linearGradient></defs>
<rect x="257.40" y="138.40" width="6.70" height="37.60" fill="url(#g138)"/>
<text x="266.40" y="143.30" font-size="6.1" fill="#1a1a1a" stroke="#1a1a1a" stroke-width="0.06">100</text>
<text x="266.40" y="151.40" font-size="6.1" fill="#1a1a1a" stroke="#1a1a1a" stroke-width="0.06">50</text>
<text x="266.40" y="159.50" font-size="6.1" fill="#1a1a1a" stroke="#1a1a1a" stroke-width="0.06">0</text>
<text x="266.40" y="167.50" font-size="6.1" fill="#1a1a1a" stroke="#1a1a1a" stroke-width="0.06">-50</text>
<text x="266.40" y="175.50" font-size="6.1" fill="#1a1a1a" stroke="#1a1a1a" stroke-width="0.06">-100</text>
<text x="257.90" y="207.00" font-size="6.1" font-weight="bold" fill="#000" stroke="#000" stroke-width="0.06">Module</text>
<rect x="257.90" y="211.45" width="6.10" height="6.10" fill="#ee8226"/>
<text x="266.30" y="216.70" font-size="6.1" fill="#1a1a1a" stroke="#1a1a1a" stroke-width="0.06">Erythroid cells</text>
<rect x="257.90" y="217.75" width="6.10" height="6.10" fill="#fb2cf8"/>
<text x="266.30" y="223.00" font-size="6.1" fill="#1a1a1a" stroke="#1a1a1a" stroke-width="0.06">Neutrophil activation</text>
<text x="257.90" y="235.60" font-size="6.1" font-weight="bold" fill="#000" stroke="#000" stroke-width="0.06">% Response</text>
<defs><linearGradient id="g238" x1="0" y1="0" x2="0" y2="1"><stop offset="0.000" stop-color="#ff0000"/><stop offset="0.050" stop-color="#ff3e22"/><stop offset="0.100" stop-color="#ff5b3a"/><stop offset="0.150" stop-color="#ff7352"/><stop offset="0.200" stop-color="#ff8969"/><stop offset="0.250" stop-color="#ff9e81"/><stop offset="0.300" stop-color="#ffb299"/><stop offset="0.350" stop-color="#ffc6b2"/><stop offset="0.400" stop-color="#ffd9cb"/><stop offset="0.450" stop-color="#ffece5"/><stop offset="0.500" stop-color="#ffffff"/><stop offset="0.550" stop-color="#f2e7ff"/><stop offset="0.600" stop-color="#e3d0ff"/><stop offset="0.650" stop-color="#d4b9ff"/><stop offset="0.700" stop-color="#c4a2ff"/><stop offset="0.750" stop-color="#b38bff"/><stop offset="0.800" stop-color="#a074ff"/><stop offset="0.850" stop-color="#8a5dff"/><stop offset="0.900" stop-color="#7145ff"/><stop offset="0.950" stop-color="#502bff"/><stop offset="1.000" stop-color="#0000ff"/></linearGradient></defs>
<rect x="257.40" y="238.30" width="6.70" height="38.20" fill="url(#g238)"/>
<text x="266.40" y="243.40" font-size="6.1" fill="#1a1a1a" stroke="#1a1a1a" stroke-width="0.06">100</text>
<text x="266.40" y="251.80" font-size="6.1" fill="#1a1a1a" stroke="#1a1a1a" stroke-width="0.06">50</text>
<text x="266.40" y="259.90" font-size="6.1" fill="#1a1a1a" stroke="#1a1a1a" stroke-width="0.06">0</text>
<text x="266.40" y="268.20" font-size="6.1" fill="#1a1a1a" stroke="#1a1a1a" stroke-width="0.06">-50</text>
<text x="266.40" y="276.60" font-size="6.1" fill="#1a1a1a" stroke="#1a1a1a" stroke-width="0.06">-100</text>
<rect x="361.80" y="22.10" width="4.00" height="34.30" fill="#0a14f0"/>
<circle cx="371.20" cy="25.50" r="2.85" fill="#f22815" stroke="#000" stroke-opacity="0.15" stroke-width="0.5"/>
<circle cx="378.20" cy="25.50" r="2.85" fill="#f23720" stroke="#000" stroke-opacity="0.15" stroke-width="0.5"/>
<circle cx="385.20" cy="25.50" r="2.85" fill="#f2755a" stroke="#000" stroke-opacity="0.15" stroke-width="0.5"/>
<circle cx="371.20" cy="32.50" r="2.85" fill="#f22815" stroke="#000" stroke-opacity="0.15" stroke-width="0.5"/>
<circle cx="378.20" cy="32.50" r="2.85" fill="#f27e64" stroke="#000" stroke-opacity="0.15" stroke-width="0.5"/>
<circle cx="385.20" cy="32.50" r="2.85" fill="#f9c6b7" stroke="#000" stroke-opacity="0.15" stroke-width="0.5"/>
<circle cx="371.20" cy="39.50" r="2.85" fill="#f49881" stroke="#000" stroke-opacity="0.15" stroke-width="0.5"/>
<circle cx="378.20" cy="39.50" r="2.85" fill="#f7b19e" stroke="#000" stroke-opacity="0.15" stroke-width="0.5"/>
<circle cx="385.20" cy="39.50" r="2.85" fill="#f9cabc" stroke="#000" stroke-opacity="0.15" stroke-width="0.5"/>
<circle cx="371.20" cy="46.40" r="2.85" fill="#f4947c" stroke="#000" stroke-opacity="0.15" stroke-width="0.5"/>
<circle cx="378.20" cy="46.40" r="2.85" fill="#f7b5a3" stroke="#000" stroke-opacity="0.15" stroke-width="0.5"/>
<circle cx="385.20" cy="46.40" r="2.85" fill="#fbd6cb" stroke="#000" stroke-opacity="0.15" stroke-width="0.5"/>
<circle cx="371.20" cy="53.40" r="2.85" fill="#f9cabc" stroke="#000" stroke-opacity="0.15" stroke-width="0.5"/>
<circle cx="378.20" cy="53.40" r="2.85" fill="#fbdbd0" stroke="#000" stroke-opacity="0.15" stroke-width="0.5"/>
<text x="390.80" y="28.10" font-size="7.26" fill="#000" stroke="#000" stroke-width="0.18">A27.3| M12.15.Plasma cells</text>
<text x="390.80" y="35.10" font-size="7.26" fill="#000" stroke="#000" stroke-width="0.18">A27.1| M13.32.Plasma cells</text>
<text x="390.80" y="42.10" font-size="7.26" fill="#000" stroke="#000" stroke-width="0.18">A27.4| M15.110.Plasma cells</text>
<text x="390.80" y="49.00" font-size="7.26" fill="#000" stroke="#000" stroke-width="0.18">A27.5| M16.92.Plasma cells</text>
<text x="390.80" y="56.00" font-size="7.26" fill="#000" stroke="#000" stroke-width="0.18">A27.2| M16.60.Plasma cells</text>
<text transform="translate(373.65,59.40) rotate(-90)" font-size="6.8" text-anchor="end" fill="#000" stroke="#000" stroke-width="0.22">DA3</text>
<text transform="translate(380.65,59.40) rotate(-90)" font-size="6.8" text-anchor="end" fill="#000" stroke="#000" stroke-width="0.22">DA2</text>
<text transform="translate(387.65,59.40) rotate(-90)" font-size="6.8" text-anchor="end" fill="#000" stroke="#000" stroke-width="0.22">DA1</text>
<text x="304.70" y="43.40" font-size="9.0" fill="#000" stroke="#000" stroke-width="0.18">A27</text>
<line x1="371.20" y1="3.80" x2="381.90" y2="3.80" stroke="#4a4a4a" stroke-width="0.8"/>
<line x1="371.20" y1="3.80" x2="371.20" y2="19.90" stroke="#4a4a4a" stroke-width="0.8"/>
<line x1="381.90" y1="3.80" x2="381.90" y2="12.90" stroke="#4a4a4a" stroke-width="0.8"/>
<line x1="378.20" y1="12.90" x2="385.20" y2="12.90" stroke="#4a4a4a" stroke-width="0.8"/>
<line x1="378.20" y1="12.90" x2="378.20" y2="19.90" stroke="#4a4a4a" stroke-width="0.8"/>
<line x1="385.20" y1="12.90" x2="385.20" y2="19.90" stroke="#4a4a4a" stroke-width="0.8"/>
<line x1="344.40" y1="25.50" x2="344.40" y2="32.50" stroke="#4a4a4a" stroke-width="0.8"/>
<line x1="344.40" y1="25.50" x2="361.80" y2="25.50" stroke="#4a4a4a" stroke-width="0.8"/>
<line x1="344.40" y1="32.50" x2="361.80" y2="32.50" stroke="#4a4a4a" stroke-width="0.8"/>
<line x1="358.50" y1="39.50" x2="358.50" y2="46.40" stroke="#4a4a4a" stroke-width="0.8"/>
<line x1="358.50" y1="39.50" x2="361.80" y2="39.50" stroke="#4a4a4a" stroke-width="0.8"/>
<line x1="358.50" y1="46.40" x2="361.80" y2="46.40" stroke="#4a4a4a" stroke-width="0.8"/>
<line x1="348.90" y1="42.95" x2="348.90" y2="53.40" stroke="#4a4a4a" stroke-width="0.8"/>
<line x1="348.90" y1="42.95" x2="358.50" y2="42.95" stroke="#4a4a4a" stroke-width="0.8"/>
<line x1="348.90" y1="53.40" x2="361.80" y2="53.40" stroke="#4a4a4a" stroke-width="0.8"/>
<line x1="325.80" y1="29.00" x2="325.80" y2="48.17" stroke="#4a4a4a" stroke-width="0.8"/>
<line x1="325.80" y1="29.00" x2="344.40" y2="29.00" stroke="#4a4a4a" stroke-width="0.8"/>
<line x1="325.80" y1="48.17" x2="348.90" y2="48.17" stroke="#4a4a4a" stroke-width="0.8"/>
<rect x="366.50" y="119.80" width="4.60" height="6.70" fill="#2fc8c0"/>
<rect x="366.50" y="126.40" width="4.60" height="32.60" fill="#2ff0f0"/>
<circle cx="376.20" cy="123.00" r="2.75" fill="#f20000" stroke="#000" stroke-opacity="0.15" stroke-width="0.5"/>
<circle cx="383.00" cy="123.00" r="2.75" fill="#f20000" stroke="#000" stroke-opacity="0.15" stroke-width="0.5"/>
<circle cx="389.70" cy="123.00" r="2.75" fill="#f20000" stroke="#000" stroke-opacity="0.15" stroke-width="0.5"/>
<circle cx="376.20" cy="129.70" r="2.75" fill="#f21307" stroke="#000" stroke-opacity="0.15" stroke-width="0.5"/>
<circle cx="383.00" cy="129.70" r="2.75" fill="#f21307" stroke="#000" stroke-opacity="0.15" stroke-width="0.5"/>
<circle cx="389.70" cy="129.70" r="2.75" fill="#f21307" stroke="#000" stroke-opacity="0.15" stroke-width="0.5"/>
<circle cx="376.20" cy="136.40" r="2.75" fill="#f23f27" stroke="#000" stroke-opacity="0.15" stroke-width="0.5"/>
<circle cx="383.00" cy="136.40" r="2.75" fill="#f23f27" stroke="#000" stroke-opacity="0.15" stroke-width="0.5"/>
<circle cx="389.70" cy="136.40" r="2.75" fill="#f2422a" stroke="#000" stroke-opacity="0.15" stroke-width="0.5"/>
<circle cx="376.20" cy="143.00" r="2.75" fill="#f2482f" stroke="#000" stroke-opacity="0.15" stroke-width="0.5"/>
<circle cx="383.00" cy="143.00" r="2.75" fill="#f24b31" stroke="#000" stroke-opacity="0.15" stroke-width="0.5"/>
<circle cx="389.70" cy="143.00" r="2.75" fill="#f24b31" stroke="#000" stroke-opacity="0.15" stroke-width="0.5"/>
<circle cx="376.20" cy="149.60" r="2.75" fill="#f2563c" stroke="#000" stroke-opacity="0.15" stroke-width="0.5"/>
<circle cx="383.00" cy="149.60" r="2.75" fill="#f2563c" stroke="#000" stroke-opacity="0.15" stroke-width="0.5"/>
<circle cx="389.70" cy="149.60" r="2.75" fill="#f25b40" stroke="#000" stroke-opacity="0.15" stroke-width="0.5"/>
<circle cx="376.20" cy="156.30" r="2.75" fill="#f25d43" stroke="#000" stroke-opacity="0.15" stroke-width="0.5"/>
<circle cx="383.00" cy="156.30" r="2.75" fill="#f25d43" stroke="#000" stroke-opacity="0.15" stroke-width="0.5"/>
<circle cx="389.70" cy="156.30" r="2.75" fill="#f27a5f" stroke="#000" stroke-opacity="0.15" stroke-width="0.5"/>
<text x="394.20" y="125.50" font-size="7.0" fill="#000" stroke="#000" stroke-width="0.18">A28.6| M8.3.Type 1 Interferon</text>
<text x="394.20" y="132.20" font-size="7.0" fill="#000" stroke="#000" stroke-width="0.18">A28.1| M10.1.Interferon</text>
<text x="394.20" y="138.90" font-size="7.0" fill="#000" stroke="#000" stroke-width="0.18">A28.3| M13.17.Interferon</text>
<text x="394.20" y="145.50" font-size="7.0" fill="#000" stroke="#000" stroke-width="0.18">A28.5| M15.127.Interferon</text>
<text x="394.20" y="152.10" font-size="7.0" fill="#000" stroke="#000" stroke-width="0.18">A28.2| M15.86.Interferon</text>
<text x="394.20" y="158.80" font-size="7.0" fill="#000" stroke="#000" stroke-width="0.18">A28.4| M15.64.Interferon</text>
<text transform="translate(378.60,161.90) rotate(-90)" font-size="6.7" text-anchor="end" fill="#000" stroke="#000" stroke-width="0.22">DA3</text>
<text transform="translate(385.40,161.90) rotate(-90)" font-size="6.7" text-anchor="end" fill="#000" stroke="#000" stroke-width="0.22">DA2</text>
<text transform="translate(392.10,161.90) rotate(-90)" font-size="6.7" text-anchor="end" fill="#000" stroke="#000" stroke-width="0.22">DA1</text>
<text x="312.70" y="143.60" font-size="8.4" fill="#000" stroke="#000" stroke-width="0.18">A28</text>
<line x1="379.60" y1="102.30" x2="389.70" y2="102.30" stroke="#4a4a4a" stroke-width="0.8"/>
<line x1="389.70" y1="102.30" x2="389.70" y2="118.10" stroke="#4a4a4a" stroke-width="0.8"/>
<line x1="379.60" y1="102.30" x2="379.60" y2="112.00" stroke="#4a4a4a" stroke-width="0.8"/>
<line x1="376.20" y1="112.00" x2="383.00" y2="112.00" stroke="#4a4a4a" stroke-width="0.8"/>
<line x1="376.20" y1="112.00" x2="376.20" y2="118.10" stroke="#4a4a4a" stroke-width="0.8"/>
<line x1="383.00" y1="112.00" x2="383.00" y2="118.10" stroke="#4a4a4a" stroke-width="0.8"/>
<line x1="365.70" y1="123.00" x2="365.70" y2="129.70" stroke="#4a4a4a" stroke-width="0.8"/>
<line x1="365.70" y1="123.00" x2="366.50" y2="123.00" stroke="#4a4a4a" stroke-width="0.8"/>
<line x1="365.70" y1="129.70" x2="366.50" y2="129.70" stroke="#4a4a4a" stroke-width="0.8"/>
<line x1="355.50" y1="126.35" x2="355.50" y2="136.40" stroke="#4a4a4a" stroke-width="0.8"/>
<line x1="355.50" y1="126.35" x2="365.70" y2="126.35" stroke="#4a4a4a" stroke-width="0.8"/>
<line x1="355.50" y1="136.40" x2="366.50" y2="136.40" stroke="#4a4a4a" stroke-width="0.8"/>
<line x1="358.70" y1="143.00" x2="358.70" y2="149.60" stroke="#4a4a4a" stroke-width="0.8"/>
<line x1="358.70" y1="143.00" x2="366.50" y2="143.00" stroke="#4a4a4a" stroke-width="0.8"/>
<line x1="358.70" y1="149.60" x2="366.50" y2="149.60" stroke="#4a4a4a" stroke-width="0.8"/>
<line x1="347.60" y1="146.30" x2="347.60" y2="156.30" stroke="#4a4a4a" stroke-width="0.8"/>
<line x1="347.60" y1="146.30" x2="358.70" y2="146.30" stroke="#4a4a4a" stroke-width="0.8"/>
<line x1="347.60" y1="156.30" x2="366.50" y2="156.30" stroke="#4a4a4a" stroke-width="0.8"/>
<line x1="332.90" y1="131.38" x2="332.90" y2="151.30" stroke="#4a4a4a" stroke-width="0.8"/>
<line x1="332.90" y1="131.38" x2="355.50" y2="131.38" stroke="#4a4a4a" stroke-width="0.8"/>
<line x1="332.90" y1="151.30" x2="347.60" y2="151.30" stroke="#4a4a4a" stroke-width="0.8"/>
<rect x="379.80" y="226.00" width="4.40" height="6.80" fill="#fb2cf8"/>
<rect x="379.80" y="232.80" width="4.40" height="20.80" fill="#ee8226"/>
<circle cx="389.50" cy="229.50" r="2.75" fill="#f20000" stroke="#000" stroke-opacity="0.15" stroke-width="0.5"/>
<circle cx="396.50" cy="229.50" r="2.75" fill="#f20000" stroke="#000" stroke-opacity="0.15" stroke-width="0.5"/>
<circle cx="403.30" cy="229.50" r="2.75" fill="#f20000" stroke="#000" stroke-opacity="0.15" stroke-width="0.5"/>
<circle cx="389.50" cy="236.30" r="2.75" fill="#f6a590" stroke="#000" stroke-opacity="0.15" stroke-width="0.5"/>
<circle cx="396.50" cy="236.30" r="2.75" fill="#f7b19e" stroke="#000" stroke-opacity="0.15" stroke-width="0.5"/>
<circle cx="403.30" cy="236.30" r="2.75" fill="#f8baa8" stroke="#000" stroke-opacity="0.15" stroke-width="0.5"/>
<circle cx="389.50" cy="243.15" r="2.75" fill="#fbddd3" stroke="#000" stroke-opacity="0.15" stroke-width="0.5"/>
<text x="408.80" y="232.00" font-size="7.0" fill="#000" stroke="#000" stroke-width="0.18">A38.2| M10.4.Neutrophil activation</text>
<text x="408.80" y="238.80" font-size="7.0" fill="#000" stroke="#000" stroke-width="0.18">A38.1| M16.96.Erythroid cells</text>
<text x="408.80" y="245.65" font-size="7.0" fill="#000" stroke="#000" stroke-width="0.18">A38.3| M12.9.Erythroid cells</text>
<text x="408.80" y="252.50" font-size="7.0" fill="#000" stroke="#000" stroke-width="0.18">A38.4| M14.68.Erythroid cells</text>
<text transform="translate(391.95,255.90) rotate(-90)" font-size="6.8" text-anchor="end" fill="#000" stroke="#000" stroke-width="0.22">DA3</text>
<text transform="translate(398.95,255.90) rotate(-90)" font-size="6.8" text-anchor="end" fill="#000" stroke="#000" stroke-width="0.22">DA1</text>
<text transform="translate(405.75,255.90) rotate(-90)" font-size="6.8" text-anchor="end" fill="#000" stroke="#000" stroke-width="0.22">DA2</text>
<text x="324.20" y="243.30" font-size="8.6" fill="#000" stroke="#000" stroke-width="0.18">A38</text>
<line x1="389.50" y1="207.90" x2="399.90" y2="207.90" stroke="#4a4a4a" stroke-width="0.8"/>
<line x1="389.50" y1="207.90" x2="389.50" y2="226.50" stroke="#4a4a4a" stroke-width="0.8"/>
<line x1="399.90" y1="207.90" x2="399.90" y2="221.70" stroke="#4a4a4a" stroke-width="0.8"/>
<line x1="396.50" y1="221.70" x2="403.30" y2="221.70" stroke="#4a4a4a" stroke-width="0.8"/>
<line x1="396.50" y1="221.70" x2="396.50" y2="226.50" stroke="#4a4a4a" stroke-width="0.8"/>
<line x1="403.30" y1="221.70" x2="403.30" y2="226.50" stroke="#4a4a4a" stroke-width="0.8"/>
<line x1="375.30" y1="243.15" x2="375.30" y2="250.00" stroke="#4a4a4a" stroke-width="0.8"/>
<line x1="375.30" y1="243.15" x2="379.80" y2="243.15" stroke="#4a4a4a" stroke-width="0.8"/>
<line x1="375.30" y1="250.00" x2="379.80" y2="250.00" stroke="#4a4a4a" stroke-width="0.8"/>
<line x1="362.90" y1="236.30" x2="362.90" y2="246.57" stroke="#4a4a4a" stroke-width="0.8"/>
<line x1="362.90" y1="236.30" x2="379.80" y2="236.30" stroke="#4a4a4a" stroke-width="0.8"/>
<line x1="362.90" y1="246.57" x2="375.30" y2="246.57" stroke="#4a4a4a" stroke-width="0.8"/>
<line x1="345.00" y1="229.50" x2="345.00" y2="241.44" stroke="#4a4a4a" stroke-width="0.8"/>
<line x1="345.00" y1="229.50" x2="379.80" y2="229.50" stroke="#4a4a4a" stroke-width="0.8"/>
<line x1="345.00" y1="241.44" x2="362.90" y2="241.44" stroke="#4a4a4a" stroke-width="0.8"/>
</svg></body></html>
